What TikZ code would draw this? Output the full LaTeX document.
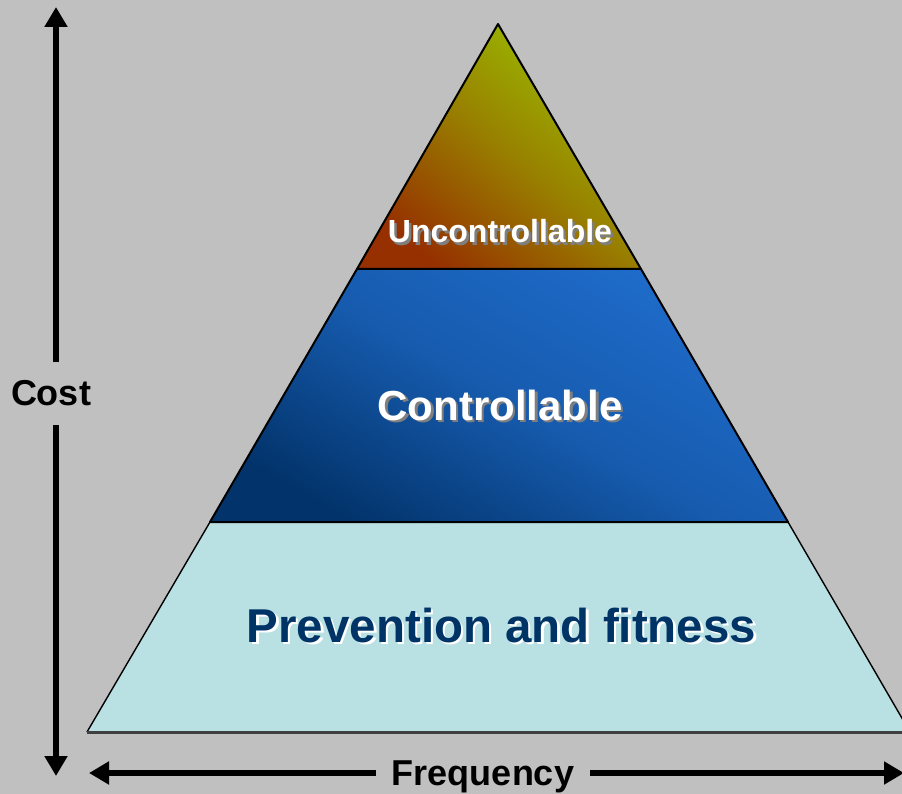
\documentclass[tikz,border=0pt]{standalone}
\usepackage{fontspec}
\setmainfont{Liberation Sans}
\usetikzlibrary{arrows.meta}
\definecolor{bgc}{HTML}{C0C0C0}
\definecolor{ubrown}{HTML}{963000}
\definecolor{ugreen}{HTML}{9AC000}
\definecolor{cdark}{HTML}{02336A}
\definecolor{clight}{HTML}{1F6CCB}
\definecolor{pcol}{HTML}{B9E0E3}
\definecolor{navy}{HTML}{003366}
\definecolor{shgrey}{HTML}{7F7F7F}
\definecolor{basegrey}{HTML}{404040}
\newcommand\shadowtext[3]{\makebox[0pt][l]{\hspace{2.5pt}\raisebox{-2.5pt}{\textcolor{#1}{#3}}}\textcolor{#2}{#3}}
\tikzset{
  axisarrow/.style={line width=6pt,-{Triangle[length=20pt,width=22pt]}},
  layeredge/.style={draw=black,line width=2pt,line join=round},
  lbl/.style={font=\bfseries\fontsize{#1}{#1}\selectfont,anchor=base,inner sep=0pt},
}
\begin{document}
\begin{tikzpicture}[x=1pt,y=-1pt]
\fill[bgc] (0,0) rectangle (902,794);
\useasboundingbox (0,0) rectangle (902,794);
% pyramid corners
\coordinate (apex) at (498,24);
\coordinate (ul) at (357,269);
\coordinate (ur) at (641,269);
\coordinate (cl) at (210,522);
\coordinate (cr) at (788,522);
\coordinate (bl) at (87,732);
\coordinate (br) at (910,732);
% prevention layer
\fill[pcol] (cl) -- (cr) -- (br) -- (bl) -- cycle;
\draw[black,line width=1.4pt] (cl) -- (bl);
\draw[black,line width=1.4pt] (cr) -- (br);
\draw[basegrey,line width=3pt] (bl) -- (br);
% controllable layer
\shade[bottom color=cdark,top color=clight,middle color=cdark!30!clight,shading angle=-30] (ul) -- (ur) -- (cr) -- (cl) -- cycle;
\draw[layeredge] (ul) -- (cl) -- (cr) -- (ur);
% uncontrollable layer
\shade[bottom color=ubrown,top color=ugreen,middle color=ubrown!45!ugreen,shading angle=-40] (apex) -- (ur) -- (ul) -- cycle;
\draw[layeredge] (apex) -- (ur) -- (ul) -- cycle;
% labels
\node[lbl=32] (unc) at (500,243) {\shadowtext{shgrey}{white}{Uncontrollable}};
\node[lbl=42] (con) at (500,420) {\shadowtext{shgrey}{white}{Controllable}};
\node[lbl=47.5] (prev) at (501.5,642) {\shadowtext{white}{navy}{Prevention and fitness}};
% axes
\node[lbl=36] (cost) at (51,405) {Cost};
\node[lbl=36] (freq) at (483,785) {Frequency};
\coordinate (ctop) at (56,7);
\coordinate (cbot) at (56,776);
\coordinate (fleft) at (89,773);
\coordinate (fright) at (904,773);
\draw[axisarrow] ([yshift=18pt]cost.north -| ctop) -- (ctop);
\draw[axisarrow] ([yshift=-20pt]cost.base -| cbot) -- (cbot);
\draw[axisarrow] ([xshift=-16pt]freq.base west |- fleft) -- (fleft);
\draw[axisarrow] ([xshift=16pt]freq.base east |- fright) -- (fright);
\end{tikzpicture}
\end{document}
